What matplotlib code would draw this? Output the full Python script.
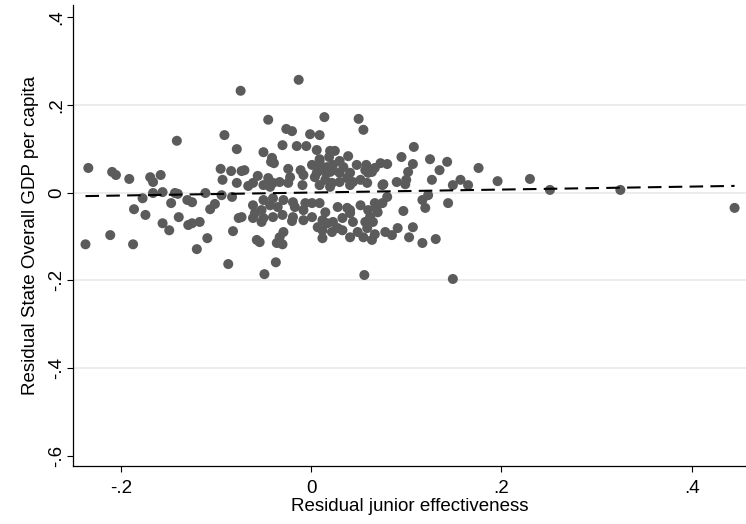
import matplotlib
matplotlib.use("Agg")
import matplotlib.pyplot as plt
import numpy as np

plt.rcParams['font.family'] = ['Liberation Sans', 'DejaVu Sans']

# residual pairs (junior effectiveness, state GDP per capita)
resid_eff = [
    -0.013, -0.074, -0.141, -0.091, -0.078, -0.234, -0.209, -0.205, -0.191, -0.169,
    -0.166, -0.158, -0.095, -0.084, -0.073, -0.093, -0.078, -0.045, 0.014, 0.050,
    0.055, -0.026, -0.020, -0.001, 0.009, -0.030, -0.015, -0.005, 0.006, -0.050,
    -0.041, -0.042, -0.039, 0.020, 0.025, 0.019, 0.039, 0.009, 0.030, 0.048,
    0.001, 0.008, -0.024, -0.011, -0.070, -0.056, -0.045, 0.015, 0.023, 0.030,
    0.057, -0.022, -0.008, 0.004, 0.038, 0.052, 0.059, -0.040, -0.033, 0.108,
    0.095, 0.125, 0.143, 0.073, 0.080, 0.107, 0.058, 0.064, 0.135, 0.102,
    0.176, 0.100, 0.127, 0.090, 0.076, 0.157, 0.149, 0.165, 0.196, 0.230,
    -0.177, -0.166, -0.156, -0.143, -0.140, -0.147, -0.130, -0.125, -0.111, -0.094,
    -0.083, -0.101, -0.106, -0.186, -0.174, -0.139, -0.156, -0.149, -0.129, -0.125,
    -0.117, -0.076, -0.082, -0.109, -0.237, -0.211, -0.187, -0.120, -0.087, -0.066,
    -0.050, -0.043, -0.024, -0.009, 0.009, 0.020, 0.041, -0.061, -0.050, -0.040,
    -0.029, -0.019, -0.006, 0.009, 0.028, 0.041, 0.052, -0.073, -0.059, -0.052,
    -0.040, -0.030, -0.019, -0.008, 0.001, 0.007, 0.017, 0.023, 0.033, 0.049,
    0.055, 0.059, -0.029, -0.033, 0.012, -0.054, -0.030, -0.037, -0.049, 0.056,
    0.075, 0.099, 0.080, 0.067, 0.075, 0.117, 0.123, 0.120, 0.144, 0.097,
    0.070, 0.062, 0.065, 0.091, 0.107, 0.067, 0.078, 0.085, 0.064, 0.103,
    0.117, 0.131, 0.149, 0.251, 0.325, 0.445,
    0.009, 0.017, 0.023, 0.034, 0.067, 0.006, 0.020, 0.041, 0.060, 0.015,
    0.030, 0.044, -0.061, 0.022, -0.052, -0.043, -0.035, -0.017, -0.008, 0.001,
    0.015, 0.038, 0.060, 0.069, -0.061, -0.050, -0.020, 0.012, 0.033, 0.041,
    0.044, 0.057, 0.012, 0.022, 0.028, 0.041, -0.057, -0.036,
]
resid_gdp = [
    0.257, 0.232, 0.118, 0.131, 0.099, 0.056, 0.047, 0.040, 0.031, 0.035,
    0.024, 0.040, 0.054, 0.049, 0.049, 0.029, 0.022, 0.166, 0.172, 0.168,
    0.143, 0.145, 0.140, 0.133, 0.131, 0.108, 0.106, 0.106, 0.097, 0.092,
    0.079, 0.070, 0.067, 0.095, 0.095, 0.081, 0.083, 0.076, 0.072, 0.063,
    0.063, 0.056, 0.054, 0.051, 0.051, 0.038, 0.033, 0.047, 0.051, 0.045,
    0.051, 0.035, 0.040, 0.035, 0.033, 0.029, 0.022, 0.022, 0.024, 0.104,
    0.081, 0.076, 0.070, 0.067, 0.065, 0.065, 0.063, 0.047, 0.051, 0.047,
    0.056, 0.029, 0.029, 0.024, 0.019, 0.029, 0.017, 0.017, 0.026, 0.031,
    -0.013, -0.001, 0.001, -0.001, -0.003, -0.024, -0.017, -0.022, -0.001, -0.006,
    -0.010, -0.026, -0.038, -0.038, -0.051, -0.056, -0.070, -0.086, -0.074, -0.070,
    -0.067, -0.058, -0.088, -0.104, -0.118, -0.097, -0.118, -0.129, -0.163, 0.015,
    0.017, 0.013, 0.022, 0.017, 0.017, 0.013, 0.017, -0.029, -0.017, -0.013,
    -0.017, -0.022, -0.024, -0.024, -0.033, -0.040, -0.029, -0.056, -0.047, -0.067,
    -0.056, -0.051, -0.056, -0.063, -0.056, -0.079, -0.070, -0.067, -0.086, -0.090,
    -0.102, -0.081, -0.090, -0.102, -0.104, -0.113, -0.118, -0.159, -0.186, -0.188,
    0.017, 0.019, -0.010, -0.024, -0.024, -0.017, -0.006, -0.035, -0.024, -0.042,
    -0.045, -0.056, -0.067, -0.081, -0.079, -0.095, -0.090, -0.097, -0.108, -0.102,
    -0.115, -0.106, -0.197, 0.006, 0.006, -0.035,
    0.070, 0.058, 0.063, 0.058, 0.056, 0.045, 0.047, 0.045, 0.045, 0.029,
    0.024, 0.024, 0.022, 0.022, -0.040, -0.029, -0.033, -0.033, -0.040, -0.024,
    -0.045, -0.035, -0.040, -0.033, -0.058, -0.058, -0.065, -0.063, -0.058, -0.047,
    -0.067, -0.067, -0.086, -0.090, -0.081, -0.102, -0.108, -0.115,
]

# linear fit of gdp residual on effectiveness residual
fit_intercept = 0.0
fit_slope = 0.034

xticks = [-0.2, 0, 0.2, 0.4]
xtick_labels = ['-.2', '0', '.2', '.4']
yticks = [-0.6, -0.4, -0.2, 0, 0.2, 0.4]
ytick_labels = ['-.6', '-.4', '-.2', '0', '.2', '.4']
grid_levels = [-0.4, -0.2, 0, 0.2]

x = np.array(resid_eff)
y = np.array(resid_gdp)

fig = plt.figure(figsize=(7.46, 5.24), dpi=100)
ax = fig.add_axes([0.098, 0.111, 0.902, 0.879])

for g in grid_levels:
    ax.axhline(g, color='#eaeaea', lw=1.3, zorder=0)

ax.scatter(x, y, s=52, color='#5b5b5b', edgecolors='none', zorder=2)

xs = np.array([x.min(), x.max()])
ax.plot(xs, fit_intercept + fit_slope * xs, color='black', lw=1.5,
        dashes=(6.5, 3.5), zorder=3)

ax.set_xlim(-0.25, 0.457)
ax.set_ylim(-0.623, 0.427)
ax.set_xticks(xticks)
ax.set_xticklabels(xtick_labels)
ax.set_yticks(yticks)
ax.set_yticklabels(ytick_labels, rotation=90, va='center')
ax.tick_params(direction='out', length=4, width=0.8, labelsize=13.5)
ax.tick_params(axis='x', pad=6)
ax.tick_params(axis='y', pad=2)

for side in ['top', 'right']:
    ax.spines[side].set_visible(False)
for side in ['left', 'bottom']:
    ax.spines[side].set_linewidth(0.9)

ax.set_xlabel('Residual junior effectiveness', fontsize=13.5, labelpad=1)
ax.set_ylabel('Residual State Overall GDP per capita', fontsize=13.5, labelpad=6)

fig.savefig('out.png', dpi=100, facecolor='white')
